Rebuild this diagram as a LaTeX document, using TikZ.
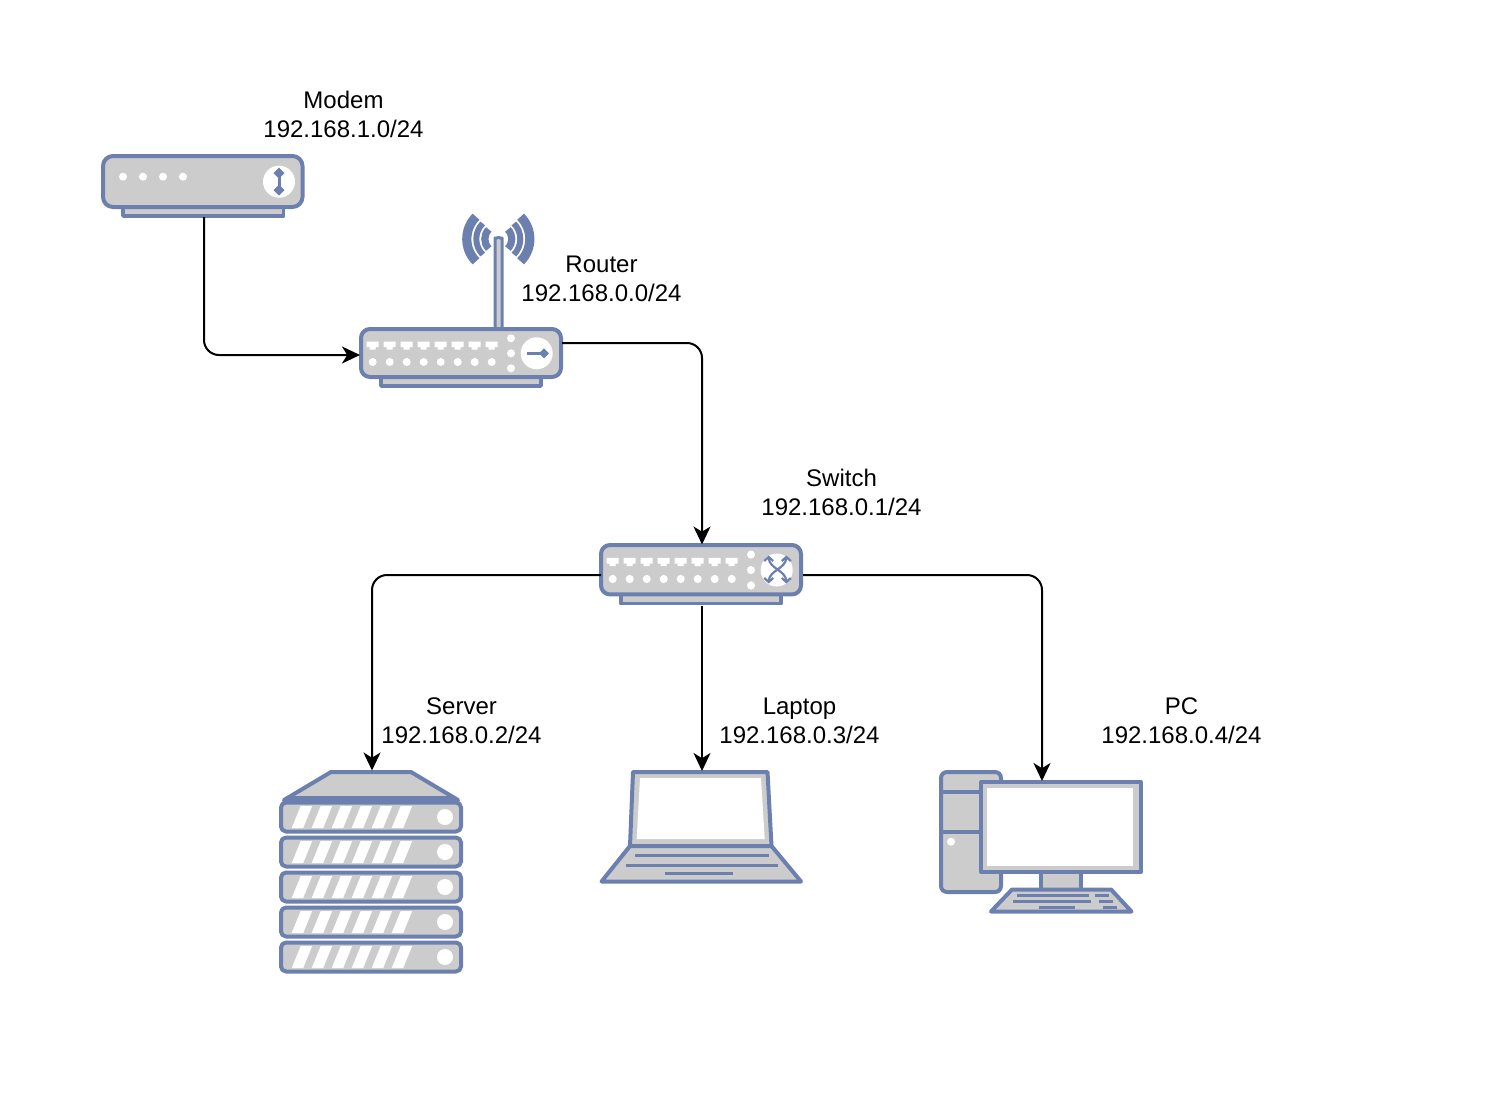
\documentclass[tikz,border=0pt]{standalone}
\usepackage{fontspec}
\setmainfont{Liberation Sans}
\usetikzlibrary{arrows.meta,positioning,calc}
\definecolor{iconblue}{RGB}{108,128,176}
\definecolor{icongray}{RGB}{204,204,204}
\begin{document}
\begin{tikzpicture}[x=0.5pt,y=-0.5pt]
    % Styles
    \tikzset{
        device/.style={rectangle, inner sep=0pt, outer sep=0pt, minimum width=101pt},
        devlabel/.style={align=center, font=\fontsize{12}{14.5}\selectfont},
        shell/.style={draw=iconblue, fill=icongray, line width=2pt, line join=round},
        stroke/.style={draw=iconblue, line width=1.75pt},
        keyrow/.style={draw=iconblue, line width=1.5pt},
        dot/.style={fill=white},
        link/.style={-{Stealth[length=9pt,width=8.5pt,inset=2.6pt]}, line width=1pt, rounded corners=7.5pt},
        glyph/.style={draw=iconblue, line width=1.5pt},
        pics/netbox/.style={code={
            \draw[shell, line width=1.75pt] (20,44) rectangle (180,57);
            \draw[shell, rounded corners=4.5pt] (0,0) rectangle (200,48);
            \foreach \i in {0,...,7} {
                \fill[dot] ({11.7+17*\i-6},12.5) -- ++(12,0) -- ++(0,5.5) -- ++(-3,0) -- ++(0,2.5)
                    -- ++(-6,0) -- ++(0,-2.5) -- ++(-3,0) -- cycle;
                \fill[dot] ({11.7+17*\i},33) circle (2pt);
            }
            \foreach \y in {9.3,24.3,39.3} {
                \fill[dot] (150,\y) circle (2pt);
            }
            \fill[dot] (175.7,24.3) circle (8pt);
        }}
    }

    \useasboundingbox (0,0) rectangle (1494,1114);

    % Anchors of the devices
    \node[device, minimum height=31pt] (modem) at (204,186) {};
    \node[device, minimum height=29.5pt] (router) at (461,357.5) {};
    \node[device, minimum height=30.5pt] (switch) at (702,575) {};
    \node[device, minimum width=91pt, minimum height=101pt] (server) at (372,871.5) {};
    \node[device, minimum height=56pt] (laptop) at (702,827) {};
    \node[device, minimum width=101.5pt, minimum height=66pt] (pc) at (1042,847) {};

    % Labels
    \node[devlabel] (modemlabel) at (343.5,114.5) {Modem\\192.168.1.0/24};
    \node[devlabel] (routerlabel) at (601.5,278.5) {Router\\192.168.0.0/24};
    \node[devlabel] (switchlabel) at (841.5,492.5) {Switch\\192.168.0.1/24};
    \node[devlabel] (serverlabel) at (461.5,720.5) {Server\\192.168.0.2/24};
    \node[devlabel] (laptoplabel) at (799.5,720.5) {Laptop\\192.168.0.3/24};
    \node[devlabel] (pclabel) at (1181.5,720.5) {PC\\192.168.0.4/24};

    % Modem
    \draw[shell, line width=1.75pt] (123,200) rectangle (283.5,216);
    \draw[shell, rounded corners=5pt] (103,156) rectangle (302.5,207);
    \foreach \x in {123,143,163,183} {
        \fill[dot] (\x,176.7) circle (2pt);
    }
    \fill[dot] (279,181.7) circle (8pt);
    \draw[glyph] (279,172) -- (279,191);
    \foreach \y in {173,190} {
        \fill[iconblue] (279,\y-5.5) -- (284.5,\y) -- (279,\y+5.5) -- (273.5,\y) -- cycle;
    }

    % Router
    \draw[shell, line width=1.5pt, rounded corners=1.5pt] (495,327) -- (495,241) arc[start angle=180,end angle=0,radius=1.75pt] -- (502,327);
    \foreach \r/\w in {31.5/4.6,22/3,13.5/3.6} {
        \draw[draw=iconblue, line width=\w pt] ([shift={(135:\r*0.5pt)}]498.3,239) arc[start angle=135,end angle=225,radius=\r*0.5pt];
        \draw[draw=iconblue, line width=\w pt] ([shift={(-45:\r*0.5pt)}]498.3,239) arc[start angle=-45,end angle=45,radius=\r*0.5pt];
    }
    \pic at (361,329) {netbox};
    \draw[glyph] (527,353.3) -- (544,353.3);
    \fill[iconblue] (549,353.3) -- (544,348.3) -- (539,353.3) -- (544,358.3) -- cycle;

    % Switch
    \pic[yscale=1.03] at (601,545) {netbox};
    \foreach \sx/\sy in {-1/-1,1/-1,-1/1,1/1} {
        \draw[glyph, line width=1.1pt] (777.5,569.5) .. controls (777.5+3.5*\sx,569.5+2.5*\sy) and (777.5+8.8*\sx,569.5+6*\sy) .. (777.5+8.8*\sx,569.5+12*\sy);
        \draw[glyph, line width=1.1pt, line join=miter] (777.5+4.3*\sx,569.5+8.5*\sy) -- (777.5+8.8*\sx,569.5+12.5*\sy) -- (777.5+13.3*\sx,569.5+8.5*\sy);
    }

    % Server
    \draw[shell] (284,800) -- (331,772) -- (411,772) -- (458,800) -- cycle;
    \fill[iconblue] (281,803) -- (288,796) -- (454,796) -- (461,803) -- cycle;
    \foreach \y in {817,852,887,922,957} {
        \draw[shell, rounded corners=2.5pt] (281,\y-14.5) rectangle (461,\y+14.5);
        \foreach \i in {0,...,5} {
            \fill[dot] ({291.7+20*\i},\y+11) -- ++(11.5,0) -- ++(9,-22) -- ++(-11.5,0) -- cycle;
        }
        \fill[dot] (445,\y) circle (4pt);
    }

    % Laptop
    \draw[shell] (630,846) -- (633,772) -- (767.5,772) -- (771.5,846) -- cycle;
    \fill[white] (636.7,839) -- (640,778) -- (761,778) -- (764.7,839) -- cycle;
    \draw[shell] (630,846) -- (771.5,846) -- (801,881.5) -- (601.5,881.5) -- cycle;
    \draw[stroke] (635,855.7) -- (769,855.7);
    \draw[stroke] (626,865.3) -- (777.7,865.3);
    \draw[stroke] (664.7,873.7) -- (733,873.7);

    % PC
    \draw[shell, rounded corners=3pt] (941,772) rectangle (1001,892);
    \draw[stroke, line width=2pt] (941,791.7) -- (981,791.7);
    \draw[stroke, line width=2pt] (941,831.7) -- (981,831.7);
    \fill[dot] (951,841.7) circle (2pt);
    \draw[shell] (1041,872) rectangle (1081,890);
    \draw[shell] (981,782) rectangle (1141,872);
    \fill[white] (987,787.7) rectangle (1133.3,866);
    \draw[shell] (1012,889.5) -- (1111,889.5) -- (1131.5,911.5) -- (991,911.5) -- cycle;
    \foreach \xa/\xb/\yy in {1017/1089/895,1095/1109/895,1013/1091/901,1099/1113/901,1039/1075/907,1103/1117/907} {
        \draw[keyrow] (\xa,\yy) -- (\xb,\yy);
    }

    % Connections
    \draw[link] (modem.south) |- ([yshift=1.25pt]router.west);
    \draw[link] ([yshift=7.25pt]router.east) -| (switch.north);
    \draw[link] (switch.west) -| (server.north);
    \draw[link] (switch.south) -- (laptop.north);
    \draw[link] (switch.east) -| (pc.north);
\end{tikzpicture}
\end{document}
